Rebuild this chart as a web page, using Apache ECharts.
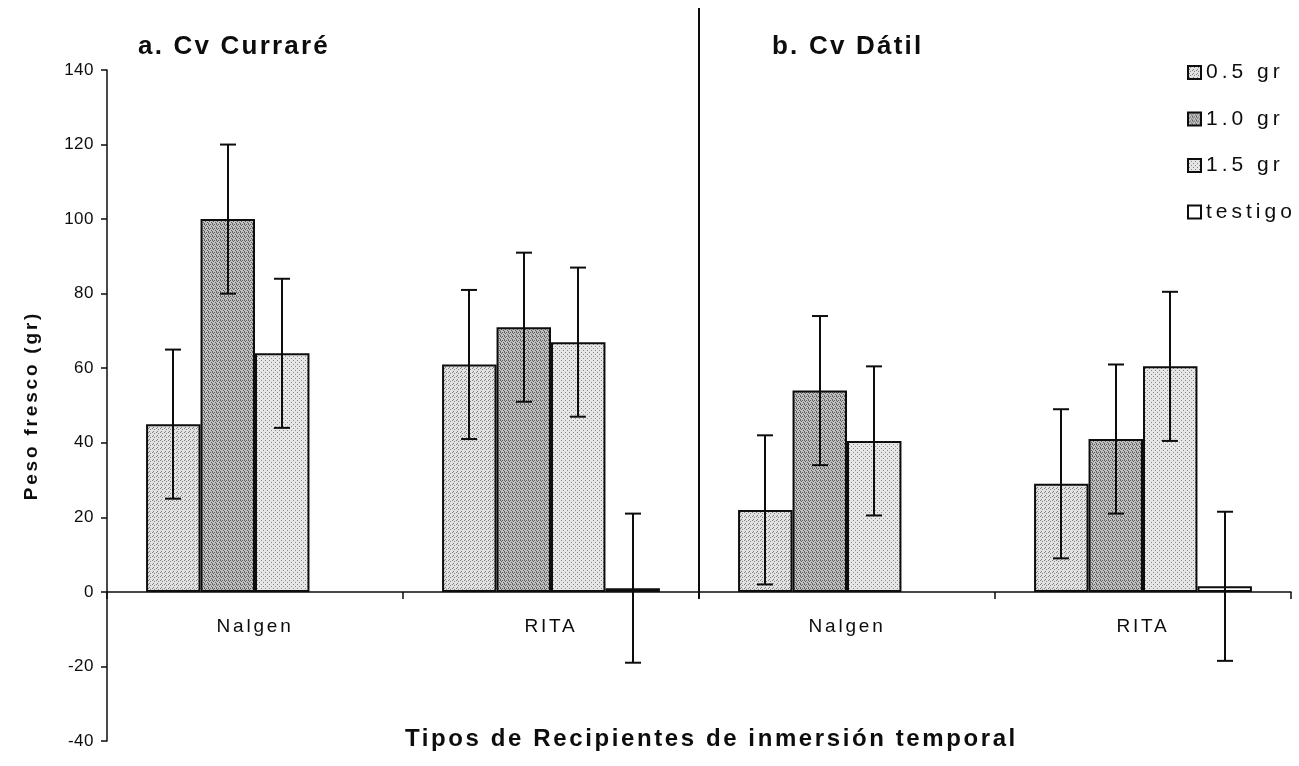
<!DOCTYPE html>
<html>
<head>
<meta charset="utf-8">
<script src="https://cdn.jsdelivr.net/npm/echarts@6/dist/echarts.min.js"></script>
<style>
  html, body { margin: 0; padding: 0; background: #fff; }
  #chart { width: 1299px; height: 766px; }
</style>
</head>
<body>
<div id="chart"></div>
<script>
// Fresh weight (gr) per container type, for two cultivars and four doses
const categories = ['Nalgen', 'RITA', 'Nalgen', 'RITA'];
const seriesNames = ['0.5 gr', '1.0 gr', '1.5 gr', 'testigo'];
const dose05 = [45, 61, 22, 29];
const dose10 = [100, 71, 54, 41];
const dose15 = [64, 67, 40.5, 60.5];
const testigo = [null, 1, null, 1.5];
const err05 = [20, 20, 20, 20];
const err10 = [20, 20, 20, 20];
const err15 = [20, 20, 20, 20];
const errTestigo = [null, 20, null, 20];
const yTicks = { min: -40, max: 140, interval: 20 };

const FONT = '"Liberation Sans", Arial, sans-serif';
const INK = '#0d0d0d';
const CATEGORY_GAP = 0.264;

// Wide tracking per text size (px), as in the printed figure
const TRACKING = { 17: 0.5, 19: 2.8, 21: 4, 24: 2.6, 26: 2.2 };
(function () {
  const proto = CanvasRenderingContext2D.prototype;
  const fill = proto.fillText;
  proto.fillText = function (text, x, y, maxWidth) {
    const m = /(\d+(?:\.\d+)?)px/.exec(this.font);
    const sp = m ? TRACKING[Math.round(parseFloat(m[1]))] : 0;
    if ('letterSpacing' in this) this.letterSpacing = (sp || 0) + 'px';
    return maxWidth === undefined ? fill.call(this, text, x, y) : fill.call(this, text, x, y, maxWidth);
  };
})();

// Stippled grey fills, like a halftone print
function stipple(base, dot, cells) {
  const c = document.createElement('canvas');
  c.width = 4; c.height = 4;
  const g = c.getContext('2d');
  g.fillStyle = base;
  g.fillRect(0, 0, 4, 4);
  g.fillStyle = dot;
  cells.forEach(function (p) { g.fillRect(p[0], p[1], 1, 1); });
  return { image: c, repeat: 'repeat' };
}
const fills = [
  stipple('#e2e2e2', '#808080', [[0, 0], [2, 1], [1, 3]]),
  stipple('#c0c0c0', '#606060', [[0, 0], [2, 0], [1, 1], [3, 2], [0, 3]]),
  stipple('#e6e6e6', '#888888', [[1, 0], [3, 2]]),
  '#ffffff'
];
const values = [dose05, dose10, dose15, testigo];
const errors = [err05, err10, err15, errTestigo];

const errData = [];
values.forEach(function (vals, s) {
  vals.forEach(function (v, i) {
    if (v != null && errors[s][i] != null) errData.push([i, v, errors[s][i], s]);
  });
});

function renderError(params, api) {
  const cat = api.value(0), v = api.value(1), e = api.value(2), s = api.value(3);
  const band = api.size([1, 0])[0];
  const groupW = band * (1 - CATEGORY_GAP);
  const barW = groupW / 4;
  const x = Math.round(api.coord([cat, 0])[0] - groupW / 2 + barW * (s + 0.5));
  const yTop = api.coord([cat, v + e])[1];
  const yBot = api.coord([cat, v - e])[1];
  const cap = 8;
  const st = { stroke: INK, lineWidth: 2 };
  return {
    type: 'group',
    children: [
      { type: 'line', shape: { x1: x, y1: yTop, x2: x, y2: yBot }, style: st },
      { type: 'line', shape: { x1: x - cap, y1: yTop, x2: x + cap, y2: yTop }, style: st },
      { type: 'line', shape: { x1: x - cap, y1: yBot, x2: x + cap, y2: yBot }, style: st }
    ]
  };
}

// Vertical rule separating the two cultivars
function renderDivider(params, api) {
  const band = api.size([1, 0])[0];
  const x = Math.round(api.coord([api.value(0), 0])[0] + band / 2);
  const y0 = api.coord([0, 0])[1];
  const cs = params.coordSys;
  return {
    type: 'line',
    shape: { x1: x, y1: cs.y - 62, x2: x, y2: y0 + 7 },
    style: { stroke: INK, lineWidth: 2 }
  };
}

// Category names sit just under the zero line
function renderCategoryLabel(params, api) {
  const i = api.value(0);
  const p = api.coord([i, 0]);
  return {
    type: 'text',
    x: p[0],
    y: p[1] + 35,
    style: {
      text: categories[i],
      fill: INK,
      font: '19px ' + FONT,
      textAlign: 'center',
      textVerticalAlign: 'middle',
      align: 'center',
      verticalAlign: 'middle'
    }
  };
}

const barSeries = values.map(function (vals, s) {
  return {
    name: seriesNames[s],
    type: 'bar',
    data: vals,
    barGap: '0%',
    barCategoryGap: (CATEGORY_GAP * 100) + '%',
    itemStyle: { color: fills[s], borderColor: INK, borderWidth: 2 },
    emphasis: { disabled: true },
    z: 2
  };
});

const chart = echarts.init(document.getElementById('chart'), null, { renderer: 'canvas' });
chart.setOption({
  animation: false,
  backgroundColor: '#ffffff',
  title: [
    { text: 'a. Cv Curraré', left: 138, top: 34, padding: 0,
      textStyle: { fontFamily: FONT, fontSize: 26, fontWeight: 'bold', color: INK } },
    { text: 'b. Cv Dátil', left: 772, top: 34, padding: 0,
      textStyle: { fontFamily: FONT, fontSize: 26, fontWeight: 'bold', color: INK } },
    { text: 'Tipos de Recipientes de inmersión temporal', left: 405, top: 727, padding: 0,
      textStyle: { fontFamily: FONT, fontSize: 24, fontWeight: 'bold', color: INK } }
  ],
  legend: {
    data: seriesNames,
    orient: 'vertical',
    left: 1187,
    top: 62,
    padding: 0,
    icon: 'rect',
    itemWidth: 13,
    itemHeight: 13,
    itemGap: 25.5,
    textStyle: { fontFamily: FONT, fontSize: 21, lineHeight: 21, color: INK },
    selectedMode: false
  },
  grid: { left: 107, right: 8, top: 70, bottom: 25, containLabel: false, outerBoundsMode: 'none' },
  xAxis: {
    type: 'category',
    data: categories,
    axisLine: { onZero: true, lineStyle: { color: INK, width: 1.5 } },
    axisTick: { show: true, alignWithLabel: false, length: 7, lineStyle: { color: INK, width: 1.5 } },
    axisLabel: { show: false }
  },
  yAxis: {
    type: 'value',
    min: yTicks.min,
    max: yTicks.max,
    interval: yTicks.interval,
    splitLine: { show: false },
    axisLine: { show: true, lineStyle: { color: INK, width: 1.5 } },
    axisTick: { show: true, length: 6, lineStyle: { color: INK, width: 1.5 } },
    axisLabel: { fontFamily: FONT, fontSize: 17, color: INK, margin: 13 },
    name: 'Peso fresco (gr)',
    nameLocation: 'middle',
    nameGap: 66,
    nameTextStyle: { fontFamily: FONT, fontSize: 19, fontWeight: 'bold', color: INK }
  },
  series: barSeries.concat([
    {
      type: 'custom',
      name: 'error',
      renderItem: renderError,
      data: errData,
      encode: { x: 0, y: 1 },
      z: 5,
      silent: true
    },
    {
      type: 'custom',
      name: 'divider',
      renderItem: renderDivider,
      data: [[1, 0]],
      encode: { x: 0, y: 1 },
      z: 6,
      silent: true
    },
    {
      type: 'custom',
      name: 'categoryLabels',
      renderItem: renderCategoryLabel,
      data: categories.map(function (c, i) { return [i, 0]; }),
      encode: { x: 0, y: 1 },
      z: 6,
      silent: true
    }
  ])
});
</script>
</body>
</html>
